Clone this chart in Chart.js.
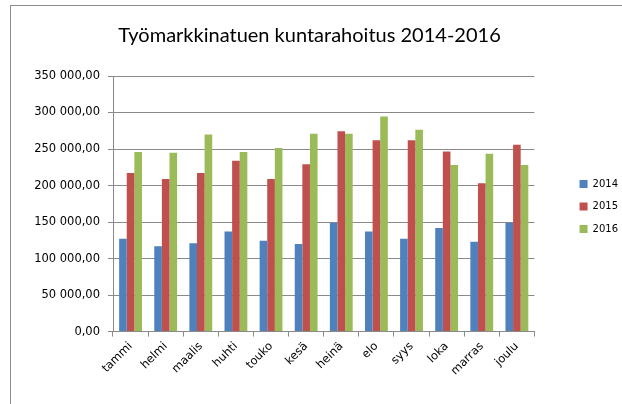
<!DOCTYPE html>
<html>
<head>
<meta charset="utf-8">
<script src="https://cdn.jsdelivr.net/npm/chart.js@4"></script>
<style>
  body { margin: 0; background: #fff; }
  #frame { position: absolute; left: 10px; top: 5px; width: 700px; height: 500px; border: 1px solid #8c8c8c; }
  #wrap { position: absolute; left: 0; top: 0; width: 622px; height: 404px; }
</style>
</head>
<body>
<div id="frame"></div>
<div id="wrap"><canvas id="salesChart"></canvas></div>
<script>
const months = ['tammi', 'helmi', 'maalis', 'huhti', 'touko', 'kesä', 'heinä', 'elo', 'syys', 'loka', 'marras', 'joulu'];
const values2014 = [127000, 117000, 121000, 137000, 124500, 120000, 149000, 137000, 127000, 142000, 123000, 149000];
const values2015 = [217000, 209000, 217000, 234000, 209000, 229000, 274500, 262000, 262000, 246500, 203000, 256000];
const values2016 = [246000, 245000, 270000, 246000, 251500, 271000, 271000, 294500, 276500, 228000, 243500, 228000];
const yTicks = [0, 50000, 100000, 150000, 200000, 250000, 300000, 350000];

function fiNumber(v) {
    const whole = Math.round(v).toString().replace(/\B(?=(\d{3})+(?!\d))/g, ' ');
    return whole + ',00';
}

document.addEventListener('DOMContentLoaded', function () {
    const ctx = document.getElementById('salesChart').getContext('2d');
    const gridGray = '#8a8a8a';
    new Chart(ctx, {
        type: 'bar',
        data: {
            labels: months,
            datasets: [
                { label: '2014', data: values2014, backgroundColor: '#4F81BD' },
                { label: '2015', data: values2015, backgroundColor: '#C0504D' },
                { label: '2016', data: values2016, backgroundColor: '#9BBB59' }
            ]
        },
        options: {
            responsive: true,
            maintainAspectRatio: false,
            animation: false,
            datasets: { bar: { categoryPercentage: 0.65, barPercentage: 1.0 } },
            layout: { padding: { left: -9, right: -6, top: 24, bottom: 23 } },
            plugins: {
                title: {
                    display: true,
                    text: 'Työmarkkinatuen kuntarahoitus 2014-2016',
                    color: '#000',
                    font: { family: 'Lato', size: 20, weight: 'normal' },
                    padding: { top: 0, bottom: 28 }
                },
                legend: {
                    position: 'right',
                    // blank title, only nudges the items down a little
                    title: { display: true, text: '', font: { size: 5 }, padding: 1 },
                    labels: {
                        color: '#000',
                        font: { family: 'DejaVu Sans', size: 10 },
                        boxWidth: 8,
                        boxHeight: 8,
                        padding: 12.5
                    }
                },
                tooltip: { enabled: false }
            },
            scales: {
                x: {
                    grid: { display: true, drawOnChartArea: false, color: gridGray, tickLength: 5 },
                    border: { color: gridGray },
                    ticks: {
                        color: '#000',
                        font: { family: 'DejaVu Sans', size: 11.5 },
                        minRotation: 45,
                        maxRotation: 45,
                        padding: 3
                    }
                },
                y: {
                    min: 0,
                    max: 350000,
                    afterBuildTicks: function (axis) {
                        axis.ticks = yTicks.map(v => ({ value: v }));
                    },
                    afterFit: function (axis) { axis.width = 122; },
                    grid: { color: gridGray, tickLength: 5 },
                    border: { color: gridGray },
                    ticks: {
                        color: '#000',
                        font: { family: 'DejaVu Sans', size: 11.5 },
                        padding: 8,
                        callback: function (v) { return fiNumber(v); }
                    }
                },
                // empty spacer between plot and legend
                gap: {
                    type: 'linear',
                    position: 'right',
                    display: true,
                    grid: { display: false },
                    border: { display: false },
                    ticks: { display: false },
                    afterFit: function (axis) { axis.width = 32.6; }
                }
            }
        }
    });
});
</script>
</body>
</html>
